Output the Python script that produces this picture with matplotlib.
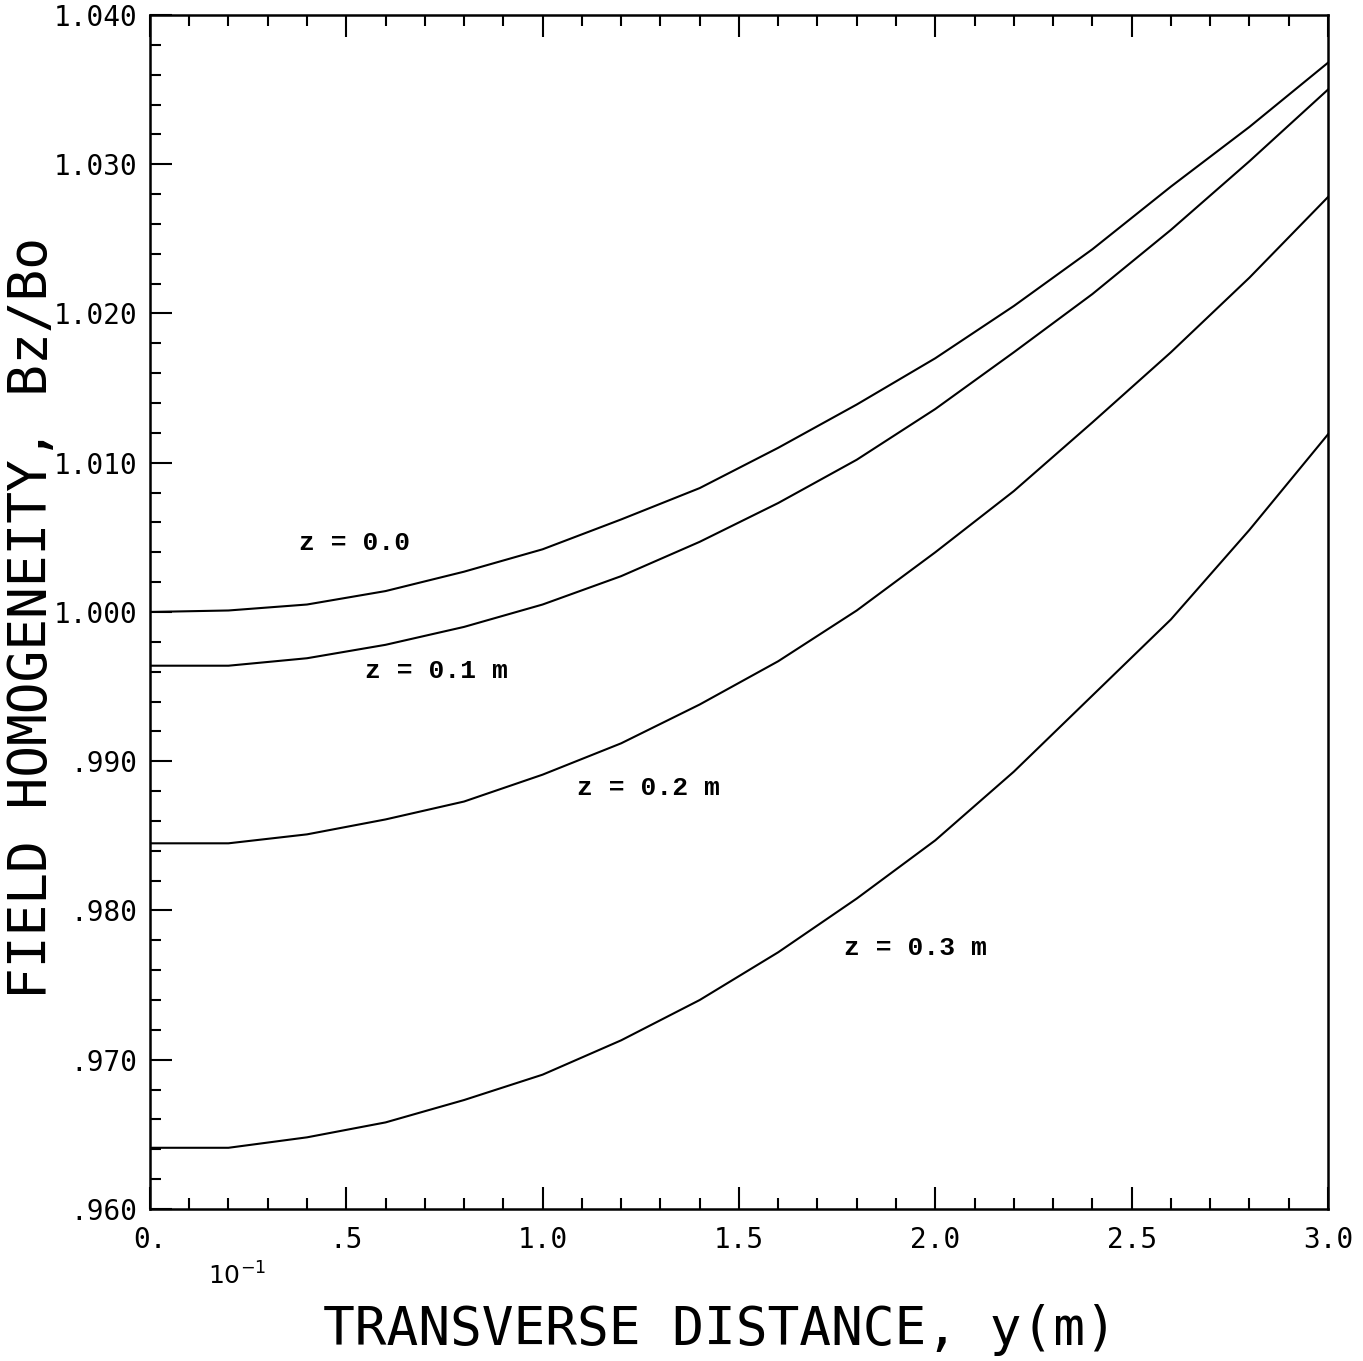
import matplotlib
matplotlib.use("Agg")
import matplotlib.pyplot as plt
from matplotlib.ticker import MultipleLocator

# transverse distance y (units of 10^-1 m on the axis)
y_dist = [0.0, 0.2, 0.4, 0.6, 0.8, 1.0, 1.2, 1.4, 1.6, 1.8, 2.0, 2.2, 2.4, 2.6, 2.8, 3.0]

# Bz/Bo for each z
bz_z00 = [1.0000, 1.0001, 1.0005, 1.0014, 1.0027, 1.0042, 1.0062, 1.0083,
          1.0110, 1.0139, 1.0170, 1.0205, 1.0243, 1.0285, 1.0325, 1.0368]
bz_z01 = [0.9964, 0.9964, 0.9969, 0.9978, 0.9990, 1.0005, 1.0024, 1.0047,
          1.0073, 1.0102, 1.0136, 1.0174, 1.0213, 1.0256, 1.0302, 1.0350]
bz_z02 = [0.9845, 0.9845, 0.9851, 0.9861, 0.9873, 0.9891, 0.9912, 0.9938,
          0.9967, 1.0001, 1.0040, 1.0081, 1.0127, 1.0174, 1.0224, 1.0278]
bz_z03 = [0.9641, 0.9641, 0.9648, 0.9658, 0.9673, 0.9690, 0.9713, 0.9740,
          0.9772, 0.9808, 0.9847, 0.9893, 0.9944, 0.9995, 1.0055, 1.0119]

curve_labels = ["z = 0.0", "z = 0.1 m", "z = 0.2 m", "z = 0.3 m"]
label_pos = [(0.52, 1.0046), (0.73, 0.99605), (1.27, 0.98821), (1.95, 0.97749)]

xtick_vals = [0.0, 0.5, 1.0, 1.5, 2.0, 2.5, 3.0]
xtick_text = ["0.", ".5", "1.0", "1.5", "2.0", "2.5", "3.0"]
ytick_vals = [0.960, 0.970, 0.980, 0.990, 1.000, 1.010, 1.020, 1.030, 1.040]
ytick_text = [".960", ".970", ".980", ".990", "1.000", "1.010", "1.020", "1.030", "1.040"]

mono = "DejaVu Sans Mono"

fig = plt.figure(figsize=(13.63, 13.61), dpi=100)
ax = fig.add_axes([0.1100, 0.1117, 0.8643, 0.8773])

for s in [bz_z00, bz_z01, bz_z02, bz_z03]:
    ax.plot(y_dist, s, color="black", lw=1.5)

for txt, (px, py) in zip(curve_labels, label_pos):
    ax.text(px, py, txt, family="Liberation Mono", weight="bold", fontsize=19,
            ha="center", va="center")

ax.set_xlim(0, 3.0)
ax.set_ylim(0.960, 1.040)
ax.set_xticks(xtick_vals)
ax.set_xticklabels(xtick_text, family=mono, fontsize=20)
ax.set_yticks(ytick_vals)
ax.set_yticklabels(ytick_text, family=mono, fontsize=20)
ax.xaxis.set_minor_locator(MultipleLocator(0.1))
ax.yaxis.set_minor_locator(MultipleLocator(0.002))

ax.tick_params(axis="x", which="both", direction="in", top=True, bottom=True, width=1.5)
ax.tick_params(axis="x", which="major", length=16, pad=12)
ax.tick_params(axis="x", which="minor", length=8)
ax.tick_params(axis="y", which="both", direction="in", left=True, right=False, width=1.5)
ax.tick_params(axis="y", which="major", length=16, pad=9)
ax.tick_params(axis="y", which="minor", length=8)

for sp in ax.spines.values():
    sp.set_linewidth(1.8)

fig.text(237 / 1363, 1 - 1276 / 1361, r"$10^{-1}$", fontsize=18, ha="center", va="center")
fig.text(720 / 1363, 1 - 1330 / 1361, "TRANSVERSE DISTANCE, y(m)", family=mono,
         fontsize=38, ha="center", va="center")
fig.text(32 / 1363, 1 - 618 / 1361, "FIELD HOMOGENEITY, Bz/Bo", family=mono,
         fontsize=38, rotation=90, ha="center", va="center")

fig.savefig("out.png", dpi=100)
